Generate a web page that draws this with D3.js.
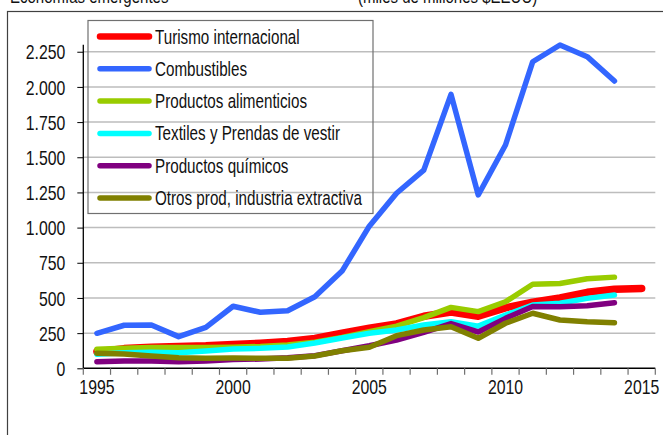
<!DOCTYPE html>
<html>
<head>
<meta charset="utf-8">
<script src="https://cdn.jsdelivr.net/npm/d3@7"></script>
<style>
	body { margin: 0; background: #fff; }
	text { font-family: "Liberation Sans", Arial, sans-serif; fill: #111; }
</style>
</head>
<body>
<script>
//series values (miles de millones $EEUU)
var years = [1995, 1996, 1997, 1998, 1999, 2000, 2001, 2002, 2003, 2004, 2005,
	2006, 2007, 2008, 2009, 2010, 2011, 2012, 2013, 2014, 2015];
var yTicks = [0, 250, 500, 750, 1000, 1250, 1500, 1750, 2000, 2250];
var xLabels = [1995, 2000, 2005, 2010, 2015];

var turismo = [118, 140, 150, 155, 160, 170, 178, 190, 212, 250, 285, 315, 370, 400, 370, 430, 470, 500, 540, 562, 568];
var combustibles = [249, 306, 308, 225, 291, 441, 398, 409, 509, 691, 1010, 1244, 1409, 1947, 1232, 1587, 2179, 2298, 2215, 2042];
var alimenticios = [135, 142, 147, 148, 148, 150, 155, 165, 185, 220, 260, 300, 360, 433, 403, 473, 597, 603, 637, 648];
var textiles = [100, 110, 114, 111, 123, 137, 142, 152, 180, 215, 249, 272, 308, 331, 300, 379, 450, 462, 497, 521];
var quimicos = [47, 52, 52, 47, 52, 62, 66, 75, 90, 125, 160, 200, 255, 318, 258, 355, 440, 438, 445, 466];
var otros = [107, 102, 87, 75, 71, 73, 71, 71, 87, 125, 149, 232, 272, 296, 213, 320, 391, 343, 331, 324];

var seriesNames = ["Turismo internacional", "Combustibles", "Productos alimenticios",
	"Textiles y Prendas de vestir", "Productos químicos", "Otros prod, industria extractiva"];
var seriesValues = [turismo, combustibles, alimenticios, textiles, quimicos, otros];
var seriesColors = ["#ff0000", "#3366ff", "#99cc00", "#00ffff", "#800080", "#808000"];

window.onload = function(){

	var w = 663, h = 435;

	var svg = d3.select("body")
		.append("svg")
		.attr("width", w)
		.attr("height", h);

	//places a horizontally squeezed text (no Arial Narrow here)
	function narrowText(parent, tx, ty, size, sx, str, anchor){
		return parent.append("text")
			.attr("transform", "translate(" + tx + "," + ty + ") scale(" + sx + ",1)")
			.attr("text-anchor", anchor || "start")
			.style("font-size", size + "px")
			.text(str);
	}

	//header texts, cut at the top of the picture
	narrowText(svg, 10, 2.5, 19, 0.79, "Economías emergentes");
	narrowText(svg, 358, 2.5, 19, 0.79, "(miles de millones $EEUU)");

	//outer frame
	svg.append("rect")
		.attr("x", 7.5)
		.attr("y", 11.5)
		.attr("width", 700)
		.attr("height", 500)
		.style("fill", "none")
		.style("stroke", "#404040")
		.style("stroke-width", 1.2);

	//scales
	var x = d3.scaleBand()
		.domain(years)
		.range([83.3, 655.3]);

	var y = d3.scaleLinear()
		.domain([0, 2300])
		.range([368.3, 44.7]);

	//gridlines
	svg.selectAll(".grid")
		.data(yTicks.slice(1))
		.enter()
		.append("line")
		.attr("class", "grid")
		.attr("x1", 83.3)
		.attr("x2", 655.3)
		.attr("y1", function(d){ return y(d); })
		.attr("y2", function(d){ return y(d); })
		.style("stroke", "#bdbdbd")
		.style("stroke-width", 1.5);

	//y axis
	var yAxis = svg.append("g")
		.attr("transform", "translate(83.3,0)")
		.call(d3.axisLeft(y)
			.tickValues(yTicks)
			.tickSize(6)
			.tickFormat(function(d){ return d3.format(",")(d).replace(/,/g, "."); }));
	yAxis.select(".domain").attr("d", "M0," + y(0) + "V" + y(2300)).style("stroke", "#000").style("stroke-width", 1.3);
	yAxis.selectAll(".tick line").style("stroke", "#000");
	yAxis.selectAll(".tick text")
		.attr("x", null)
		.attr("dy", "0.36em")
		.attr("transform", "translate(-18,0) scale(0.79,1)")
		.style("font-size", "20px")
		.style("font-family", "'Liberation Sans', Arial, sans-serif")
		.style("fill", "#111");

	//x axis, ticks on the category boundaries
	var bounds = years.map(function(d){ return x(d); }).concat([x.range()[1]]);
	svg.append("line")
		.attr("x1", 83.3)
		.attr("x2", 655.3)
		.attr("y1", y(0))
		.attr("y2", y(0))
		.style("stroke", "#000")
		.style("stroke-width", 1.5);
	svg.selectAll(".xtick")
		.data(bounds)
		.enter()
		.append("line")
		.attr("class", "xtick")
		.attr("x1", function(d){ return d; })
		.attr("x2", function(d){ return d; })
		.attr("y1", y(0))
		.attr("y2", y(0) + 6.5)
		.style("stroke", "#707070")
		.style("stroke-width", 1.2);
	xLabels.forEach(function(d){
		narrowText(svg, x(d) + x.bandwidth() / 2, 393.5, 20, 0.79, d, "middle");
	});

	//lines, in legend order (later on top)
	var line = d3.line()
		.x(function(d, i){ return x(years[i]) + x.bandwidth() / 2; })
		.y(function(d){ return y(d); });

	svg.selectAll(".series")
		.data(seriesValues)
		.enter()
		.append("path")
		.attr("class", "series")
		.attr("d", function(d){ return line(d); })
		.style("fill", "none")
		.style("stroke", function(d, i){ return seriesColors[i]; })
		.style("stroke-width", function(d, i){ return i == 0 ? 7.5 : 5.5; })
		.style("stroke-linecap", "round")
		.style("stroke-linejoin", "round");

	//legend
	var legend = svg.append("g");
	legend.append("rect")
		.attr("x", 88)
		.attr("y", 20.5)
		.attr("width", 285)
		.attr("height", 193)
		.style("fill", "none")
		.style("stroke", "#707070")
		.style("stroke-width", 1.2);

	seriesNames.forEach(function(name, i){
		var ry = 36.5 + i * 32.3;
		legend.append("line")
			.attr("x1", 100)
			.attr("x2", 149)
			.attr("y1", ry)
			.attr("y2", ry)
			.style("stroke", seriesColors[i])
			.style("stroke-width", i == 0 ? 6.5 : 5.5)
			.style("stroke-linecap", "round");
		narrowText(legend, 155, ry + 7, 19.5, 0.78, name);
	});
};
</script>
</body>
</html>
